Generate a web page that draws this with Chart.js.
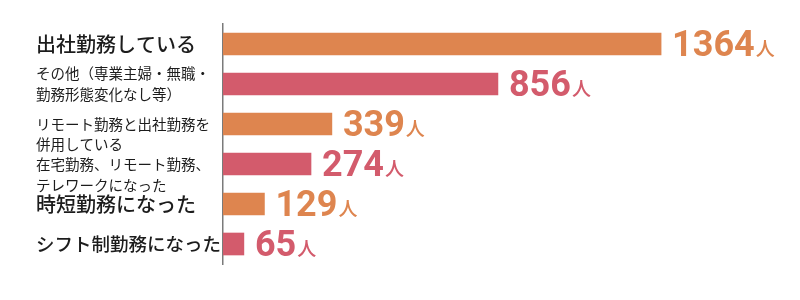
<!DOCTYPE html>
<html>
<head>
<meta charset="utf-8">
<script src="https://cdn.jsdelivr.net/npm/chart.js@4.4.1/dist/chart.umd.min.js"></script>
<style>
  html, body { margin: 0; padding: 0; background: #ffffff; }
  #wrap { width: 800px; height: 300px; position: relative; }
</style>
</head>
<body>
<div id="wrap"><canvas id="c" width="800" height="300"></canvas></div>
<script>
const categories = [
  '出社勤務している',
  ['その他（専業主婦・無職・', '勤務形態変化なし等）'],
  ['リモート勤務と出社勤務を', '併用している'],
  ['在宅勤務、リモート勤務、', 'テレワークになった'],
  '時短勤務になった',
  'シフト制勤務になった'
];
const values = [1364, 856, 339, 274, 129, 65];
const unitLabel = '人';
const axisMax = 1700;

const ORANGE = '#DE854F';
const PINK = '#D35B6C';
const barColors = values.map((v, i) => i % 2 === 0 ? ORANGE : PINK);

function isMulti(i) { return Array.isArray(categories[i]); }
function labelSize(i) {
  if (isMulti(i)) return 14.5;
  const txt = categories[i];
  return txt.length > 8 ? 18.5 : 20;
}
// the left text column flows slightly lower than bar centres for rows 3 and 4
const lowerRows = { 2: 20, 3: 21 };

const valueLabels = {
  id: 'valueLabels',
  afterDatasetsDraw(chart) {
    const ctx = chart.ctx;
    const meta = chart.getDatasetMeta(0);
    ctx.save();
    meta.data.forEach((bar, i) => {
      const props = bar.getProps(['x', 'y', 'height'], true);
      const baseY = props.y + props.height / 2 + 1;
      let x = props.x + 11;
      ctx.fillStyle = barColors[i];
      ctx.textAlign = 'left';
      ctx.textBaseline = 'alphabetic';
      ctx.font = 'bold 36px Roboto, "Noto Sans", sans-serif';
      const num = String(values[i]);
      ctx.fillText(num, x, baseY);
      x += ctx.measureText(num).width + 1;
      ctx.font = '500 19px "Noto Sans CJK JP", sans-serif';
      ctx.fillText(unitLabel, x, baseY);
    });
    ctx.restore();
  }
};

new Chart(document.getElementById('c'), {
  type: 'bar',
  data: {
    labels: categories,
    datasets: [{
      data: values,
      backgroundColor: barColors,
      borderWidth: 0,
      barThickness: 22
    }]
  },
  options: {
    indexAxis: 'y',
    responsive: false,
    animation: false,
    devicePixelRatio: 1,
    layout: { padding: { left: 36, right: 31, top: 24, bottom: 36 } },
    plugins: { legend: { display: false }, tooltip: { enabled: false } },
    scales: {
      x: { display: false, min: 0, max: axisMax },
      y: {
        afterFit(scale) { scale.width = 187; },
        grid: { display: false, drawTicks: false },
        border: { display: true, color: '#7a7a7a', width: 1.5 },
        ticks: {
          autoSkip: false,
          crossAlign: 'far',
          padding: 0,
          color: '#1c1c1c',
          callback: function (value, index) {
            const lab = categories[index];
            return (index in lowerRows) ? [''].concat(lab) : lab;
          },
          font: {
            family: '"Noto Sans CJK JP", sans-serif',
            size: (c) => labelSize(c.index),
            weight: (c) => isMulti(c.index) ? '400' : '500',
            lineHeight: (c) => (c.index in lowerRows) ? lowerRows[c.index] + 'px' : '21px'
          }
        }
      }
    }
  },
  plugins: [valueLabels]
});
</script>
</body>
</html>
